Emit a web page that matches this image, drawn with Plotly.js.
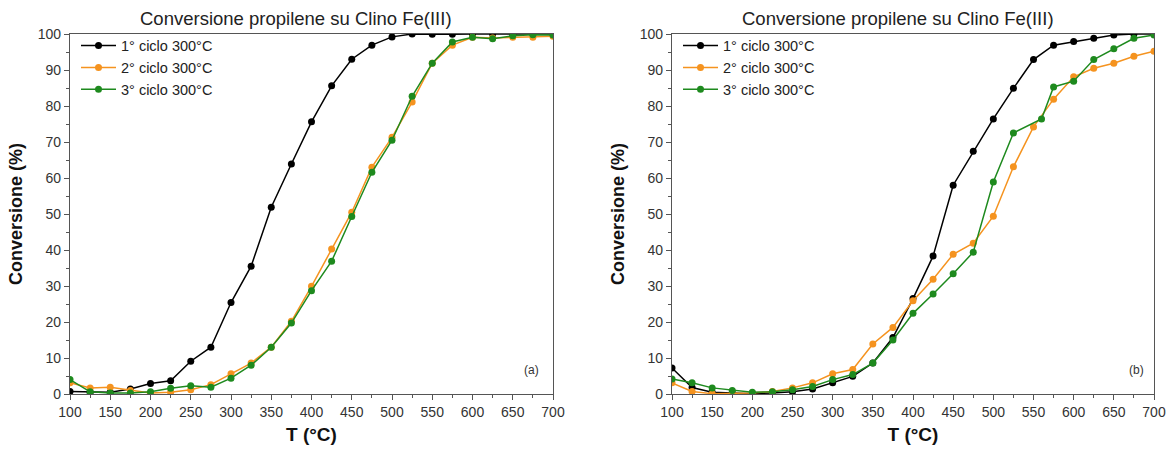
<!DOCTYPE html>
<html>
<head>
<meta charset="utf-8">
<script src="https://cdn.plot.ly/plotly-3.0.1.min.js"></script>
<style>html,body{margin:0;padding:0;background:#fff;}#chart{width:1169px;height:452px;}</style>
</head>
<body>
<div id="chart"></div>
<script>
// ---- data ----
const chartTitle = "Conversione propilene su Clino Fe(III)";
const seriesNames = ["1° ciclo 300°C", "2° ciclo 300°C", "3° ciclo 300°C"];
const xAxisTitle = "T (°C)";
const yAxisTitle = "Conversione (%)";
const panelLabels = ["(a)", "(b)"];

const tempA = [100,125,150,175,200,225,250,275,300,325,350,375,400,425,450,475,500,525,550,575,600,625,650,675,700];
const a_c1 = [0.7,0.5,0.5,1.4,2.9,3.7,9.1,13.0,25.4,35.5,51.9,63.9,75.6,85.6,93.0,96.9,99.2,100,99.9,99.9,100,100,100,100,100];
const a_c2 = [3.1,1.7,1.9,1.0,0.3,0.5,1.2,2.6,5.6,8.6,13.0,20.2,29.9,40.3,50.5,63.0,71.3,81.1,91.9,96.9,99.1,98.9,99.1,99.1,99.4];
const a_c3 = [4.0,0.6,0.3,0.3,0.6,1.6,2.3,1.9,4.4,8.0,13.0,19.7,28.7,36.9,49.3,61.6,70.5,82.7,91.9,97.8,99.1,98.7,99.5,99.8,99.7];

const tempB = [100,125,150,175,200,225,250,275,300,325,350,375,400,425,450,475,500,525,550,575,600,625,650,675,700];
const b_c1 = [7.2,1.8,0.5,0.3,0.1,0.3,0.6,1.4,3.1,4.9,8.6,15.7,26.5,38.3,58.0,67.4,76.4,84.9,92.9,96.9,97.9,98.8,99.7,100,100];
const b_c2 = [3.1,0.7,0.1,0.1,0.3,0.7,1.7,3.1,5.6,6.8,13.9,18.5,25.9,31.9,38.8,41.9,49.4,63.1,74.2,81.9,88.1,90.5,91.9,93.8,95.2];
const tempB3 = [100,125,150,175,200,225,250,275,300,325,350,375,400,425,450,475,500,525,560,575,600,625,650,675,700];
const b_c3 = [4.2,3.1,1.7,1.0,0.5,0.6,1.2,2.1,4.0,5.4,8.6,15.0,22.4,27.8,33.4,39.4,58.9,72.5,76.4,85.3,86.9,92.9,95.9,98.8,99.7];

const colors = ["#000000", "#F5931F", "#1E8A1E"];
const FONT = "Arial, 'Liberation Sans', sans-serif";

function tr(x, y, i, xa, ya, leg) {
  return {x: x, y: y, name: seriesNames[i], type: "scatter", mode: "lines+markers",
    xaxis: xa, yaxis: ya, legend: leg,
    line: {color: colors[i], width: 1.5},
    marker: {color: colors[i], size: 7, symbol: "circle"}};
}
const data = [
  tr(tempA, a_c1, 0, "x", "y", "legend"),
  tr(tempA, a_c2, 1, "x", "y", "legend"),
  tr(tempA, a_c3, 2, "x", "y", "legend"),
  tr(tempB, b_c1, 0, "x2", "y2", "legend2"),
  tr(tempB, b_c2, 1, "x2", "y2", "legend2"),
  tr(tempB3, b_c3, 2, "x2", "y2", "legend2")
];

function xax(dom, anchor) {
  return {domain: dom, anchor: anchor, range: [100, 700], dtick: 50, tick0: 100,
    showgrid: false, zeroline: false, showline: true, mirror: true, linecolor: "#555", linewidth: 1.2,
    ticks: "outside", ticklen: 5, tickcolor: "#555", tickwidth: 1,
    minor: {dtick: 25, ticks: "outside", ticklen: 3, tickcolor: "#555", showgrid: false},
    tickfont: {family: FONT, size: 14, color: "#333"},
    title: {text: xAxisTitle, font: {family: FONT, size: 19, color: "#111", weight: "bold"}, standoff: 8}};
}
function yax(dom, anchor) {
  return {domain: dom, anchor: anchor, range: [0, 100], dtick: 10,
    showgrid: false, zeroline: false, showline: true, mirror: true, linecolor: "#555", linewidth: 1.2,
    ticks: "outside", ticklen: 5, tickcolor: "#555", tickwidth: 1,
    minor: {dtick: 5, ticks: "outside", ticklen: 3, tickcolor: "#555", showgrid: false},
    tickfont: {family: FONT, size: 14, color: "#333"},
    title: {text: yAxisTitle, font: {family: FONT, size: 18, color: "#111", weight: "bold"}, standoff: 10}};
}
function leg(x) {
  return {x: x, y: 1.012, xanchor: "left", yanchor: "top", bgcolor: "rgba(0,0,0,0)",
    font: {family: FONT, size: 14.5, color: "#222"}, tracegroupgap: 0, itemwidth: 35};
}
const W = 1169;
const layout = {
  width: 1169, height: 452,
  margin: {l: 0, r: 0, t: 34, b: 58},
  paper_bgcolor: "#fff", plot_bgcolor: "#fff",
  showlegend: true,
  xaxis: xax([70/W, 553/W], "y"),
  yaxis: yax([0, 1], "x"),
  xaxis2: xax([672/W, 1154/W], "y2"),
  yaxis2: yax([0, 1], "x2"),
  legend: leg(76/W),
  legend2: leg(678/W),
  annotations: [
    {text: chartTitle, xref: "paper", yref: "paper", x: 296/W, y: 1, yshift: 16, xanchor: "center", yanchor: "middle", showarrow: false, font: {family: FONT, size: 18.5, color: "#222"}},
    {text: chartTitle, xref: "paper", yref: "paper", x: 898/W, y: 1, yshift: 16, xanchor: "center", yanchor: "middle", showarrow: false, font: {family: FONT, size: 18.5, color: "#222"}},
    {text: panelLabels[0], xref: "paper", yref: "paper", x: 531/W, y: (394-370)/360, xanchor: "center", yanchor: "middle", showarrow: false, font: {family: FONT, size: 12, color: "#333"}},
    {text: panelLabels[1], xref: "paper", yref: "paper", x: 1136/W, y: (394-370)/360, xanchor: "center", yanchor: "middle", showarrow: false, font: {family: FONT, size: 12, color: "#333"}}
  ]
};
Plotly.newPlot("chart", data, layout, {displayModeBar: false, staticPlot: true});
</script>
</body>
</html>
